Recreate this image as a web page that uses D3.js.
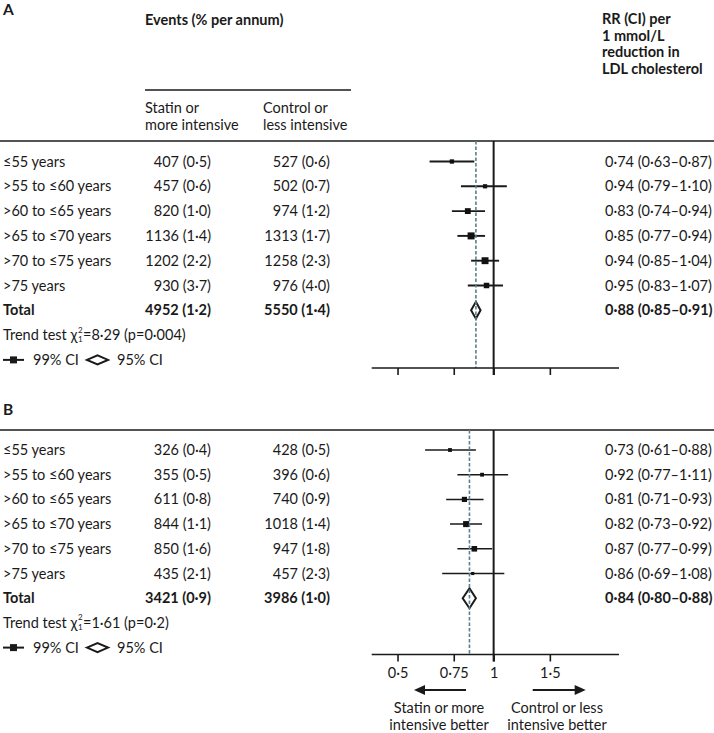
<!DOCTYPE html>
<html><head><meta charset="utf-8">
<script src="https://cdn.jsdelivr.net/npm/d3@7"></script>
<style>body{margin:0;background:#fff}svg{display:block}text{font-family:Lato,"Open Sans",sans-serif;fill:#1a1a1a}</style>
</head><body>
<script>
// ---------- data ----------
const ageGroups = ["≤55 years", ">55 to ≤60 years", ">60 to ≤65 years", ">65 to ≤70 years", ">70 to ≤75 years", ">75 years"];
const ticks = [0.5, 0.75, 1, 1.5];
const tickLabels = ["0·5", "0·75", "1", "1·5"];

// Panel A
const statinEventsA = [407, 457, 820, 1136, 1202, 930];
const statinRateA = [0.5, 0.6, 1.0, 1.4, 2.2, 3.7];
const controlEventsA = [527, 502, 974, 1313, 1258, 976];
const controlRateA = [0.6, 0.7, 1.2, 1.7, 2.3, 4.0];
const rrA = [0.74, 0.94, 0.83, 0.85, 0.94, 0.95];
const lowA = [0.63, 0.79, 0.74, 0.77, 0.85, 0.83];
const highA = [0.87, 1.10, 0.94, 0.94, 1.04, 1.07];
const totalA = {statin: 4952, statinRate: 1.2, control: 5550, controlRate: 1.4, rr: 0.88, low: 0.85, high: 0.91};
const trendA = {chi: 8.29, p: "0·004"};

// Panel B
const statinEventsB = [326, 355, 611, 844, 850, 435];
const statinRateB = [0.4, 0.5, 0.8, 1.1, 1.6, 2.1];
const controlEventsB = [428, 396, 740, 1018, 947, 457];
const controlRateB = [0.5, 0.6, 0.9, 1.4, 1.8, 2.3];
const rrB = [0.73, 0.92, 0.81, 0.82, 0.87, 0.86];
const lowB = [0.61, 0.77, 0.71, 0.73, 0.77, 0.69];
const highB = [0.88, 1.11, 0.93, 0.92, 0.99, 1.08];
const totalB = {statin: 3421, statinRate: 0.9, control: 3986, controlRate: 1.0, rr: 0.84, low: 0.80, high: 0.88};
const trendB = {chi: 1.61, p: "0·2"};

// ---------- helpers ----------
const dot = (v, d) => v.toFixed(d).replace(".", "·");
const W = 714, H = 733;
const svg = d3.select("body").append("svg").attr("width", W).attr("height", H);
const FS = 14.5;
const x = d3.scaleLog().domain([0.415, 2.47]).range([371.7, 619]);
const invVar = (lo, hi) => { const se = (Math.log(hi) - Math.log(lo)) / 3.92; return 1 / (se * se); };
const sizeScale = d3.scaleSqrt().domain([0, 386]).range([0, 7]);

function panel(cfg) {
  const g = svg.append("g");
  const y = d3.scaleLinear().domain([0, 1]).range([cfg.row0, cfg.row0 + cfg.step]);
  g.append("line").attr("x1", 0).attr("x2", W).attr("y1", cfg.rule).attr("y2", cfg.rule)
    .attr("stroke", "#1a1a1a").attr("stroke-width", 1.6);
  const rows = ageGroups.map((a, i) => ({label: a, s: cfg.se[i], sr: cfg.sr[i], c: cfg.ce[i], cr: cfg.cr[i], rr: cfg.rr[i], lo: cfg.lo[i], hi: cfg.hi[i], i}));
  rows.forEach(r => {
    const yy = y(r.i);
    g.append("text").attr("x", 3).attr("y", yy).attr("dy", "0.35em").attr("font-size", FS).text(r.label);
    g.append("text").attr("x", 211).attr("y", yy).attr("dy", "0.35em").attr("font-size", FS).attr("text-anchor", "end").text(`${r.s} (${dot(r.sr, 1)})`);
    g.append("text").attr("x", 330).attr("y", yy).attr("dy", "0.35em").attr("font-size", FS).attr("text-anchor", "end").text(`${r.c} (${dot(r.cr, 1)})`);
    g.append("text").attr("x", 605).attr("y", yy).attr("dy", "0.35em").attr("font-size", FS).text(`${dot(r.rr, 2)} (${dot(r.lo, 2)}–${dot(r.hi, 2)})`);
  });
  const t = cfg.total, ty = y(6);
  g.append("text").attr("x", 3).attr("y", ty).attr("dy", "0.35em").attr("font-size", FS).attr("font-weight", "bold").text("Total");
  g.append("text").attr("x", 211).attr("y", ty).attr("dy", "0.35em").attr("font-size", FS).attr("font-weight", "bold").attr("text-anchor", "end").text(`${t.statin} (${dot(t.statinRate, 1)})`);
  g.append("text").attr("x", 330).attr("y", ty).attr("dy", "0.35em").attr("font-size", FS).attr("font-weight", "bold").attr("text-anchor", "end").text(`${t.control} (${dot(t.controlRate, 1)})`);
  g.append("text").attr("x", 605).attr("y", ty).attr("dy", "0.35em").attr("font-size", FS).attr("font-weight", "bold").text(`${dot(t.rr, 2)} (${dot(t.low, 2)}–${dot(t.high, 2)})`);
  const try_ = y(7);
  const t1 = g.append("text").attr("x", 3).attr("y", try_).attr("dy", "0.35em").attr("font-size", FS).text("Trend test χ");
  const w1 = t1.node().getComputedTextLength();
  g.append("text").attr("x", 3 + w1 + 0.5).attr("y", try_ - 2.5).attr("font-size", 8).text("2");
  g.append("text").attr("x", 3 + w1 + 0.5).attr("y", try_ + 7).attr("font-size", 8).text("1");
  g.append("text").attr("x", 3 + w1 + 5.5).attr("y", try_).attr("dy", "0.35em").attr("font-size", FS).text(`=${dot(cfg.trend.chi, 2)} (p=${cfg.trend.p})`);
  const ly = y(8);
  g.append("line").attr("x1", 3).attr("x2", 24).attr("y1", ly).attr("y2", ly).attr("stroke", "#1a1a1a").attr("stroke-width", 2);
  g.append("rect").attr("x", 10).attr("y", ly - 3.5).attr("width", 7).attr("height", 7).attr("fill", "#1a1a1a");
  g.append("text").attr("x", 33).attr("y", ly).attr("dy", "0.35em").attr("font-size", FS).text("99% CI");
  g.append("path").attr("d", `M87,${ly}L97.5,${ly - 4.5}L108,${ly}L97.5,${ly + 4.5}Z`).attr("fill", "#fff").attr("stroke", "#1a1a1a").attr("stroke-width", 2);
  g.append("text").attr("x", 117).attr("y", ly).attr("dy", "0.35em").attr("font-size", FS).text("95% CI");
  g.append("line").attr("x1", x(1)).attr("x2", x(1)).attr("y1", cfg.rule).attr("y2", cfg.axis + 7)
    .attr("stroke", "#1a1a1a").attr("stroke-width", 2);
  rows.forEach(r => {
    const yy = y(r.i);
    g.append("line").attr("x1", x(r.lo)).attr("x2", x(r.hi)).attr("y1", yy).attr("y2", yy).attr("stroke", "#1a1a1a").attr("stroke-width", cfg.lw);
    const s = sizeScale(invVar(r.lo, r.hi));
    g.append("rect").attr("x", x(r.rr) - s / 2).attr("y", yy - s / 2).attr("width", s).attr("height", s).attr("fill", "#111");
  });
  const dh = cfg.dh;
  g.append("path").attr("d", `M${x(t.low)},${ty}L${x(t.rr)},${ty - dh}L${x(t.high)},${ty}L${x(t.rr)},${ty + dh}Z`)
    .attr("fill", "#fff").attr("stroke", "#1a1a1a").attr("stroke-width", 2);
  g.append("line").attr("x1", x(t.rr)).attr("x2", x(t.rr)).attr("y1", cfg.rule).attr("y2", cfg.axis)
    .attr("stroke", "#5f7f90").attr("stroke-width", 1.6).attr("stroke-dasharray", "3.5,2");
  const ax = g.append("g").attr("transform", `translate(0,${cfg.axis})`)
    .call(d3.axisBottom(x).tickValues(ticks).tickSize(7).tickSizeOuter(0).tickFormat((d, i) => cfg.showLabels ? tickLabels[i] : ""));
  ax.select(".domain").attr("stroke", "#1a1a1a").attr("stroke-width", 1.6).attr("d", `M${x.range()[0]},0H${x.range()[1]}`);
  ax.selectAll(".tick line").attr("stroke", "#1a1a1a").attr("stroke-width", 1.6);
  ax.selectAll(".tick text").attr("font-size", FS).attr("font-family", "Lato").attr("fill", "#1a1a1a").attr("dy", "0.95em");
  return g;
}

svg.append("text").attr("x", 3).attr("y", 14.5).attr("font-size", 15.5).attr("font-weight", "bold").text("A");
svg.append("text").attr("x", 145).attr("y", 25).attr("font-size", FS).attr("font-weight", "bold").text("Events (% per annum)");
svg.append("line").attr("x1", 145).attr("x2", 351).attr("y1", 90).attr("y2", 90).attr("stroke", "#1a1a1a").attr("stroke-width", 1.5);
[["Statin or", "more intensive", 145], ["Control or", "less intensive", 263]].forEach(([a, b, xx]) => {
  svg.append("text").attr("x", xx).attr("y", 113).attr("font-size", FS).text(a);
  svg.append("text").attr("x", xx).attr("y", 129.5).attr("font-size", FS).text(b);
});
["RR (CI) per", "1 mmol/L", "reduction in", "LDL cholesterol"].forEach((s, i) => {
  svg.append("text").attr("x", 602).attr("y", 24 + i * 16.5).attr("font-size", FS).attr("font-weight", "bold").text(s);
});
svg.append("text").attr("x", 3).attr("y", 414.5).attr("font-size", 15.5).attr("font-weight", "bold").text("B");

panel({rule: 141, row0: 161.5, step: 24.8, axis: 368, se: statinEventsA, sr: statinRateA, ce: controlEventsA, cr: controlRateA,
  rr: rrA, lo: lowA, hi: highA, total: totalA, trend: trendA, lw: 1.9, dh: 8.5, showLabels: false});
panel({rule: 430, row0: 450, step: 24.7, axis: 654.5, se: statinEventsB, sr: statinRateB, ce: controlEventsB, cr: controlRateB,
  rr: rrB, lo: lowB, hi: highB, total: totalB, trend: trendB, lw: 1.5, dh: 10, showLabels: true});

const ay = 690;
function arrow(x1, x2) {
  const dir = Math.sign(x2 - x1);
  svg.append("line").attr("x1", x1).attr("x2", x2 - dir * 9).attr("y1", ay).attr("y2", ay).attr("stroke", "#1a1a1a").attr("stroke-width", 2);
  svg.append("path").attr("d", `M${x2},${ay}L${x2 - dir * 11},${ay - 5}L${x2 - dir * 11},${ay + 5}Z`).attr("fill", "#1a1a1a");
}
arrow(466, 414);
arrow(532.7, 585.7);
[["Statin or more", "intensive better", 439], ["Control or less", "intensive better", 557]].forEach(([a, b, xx]) => {
  svg.append("text").attr("x", xx).attr("y", 713).attr("font-size", FS).attr("text-anchor", "middle").text(a);
  svg.append("text").attr("x", xx).attr("y", 730).attr("font-size", FS).attr("text-anchor", "middle").text(b);
});
</script>
</body></html>
